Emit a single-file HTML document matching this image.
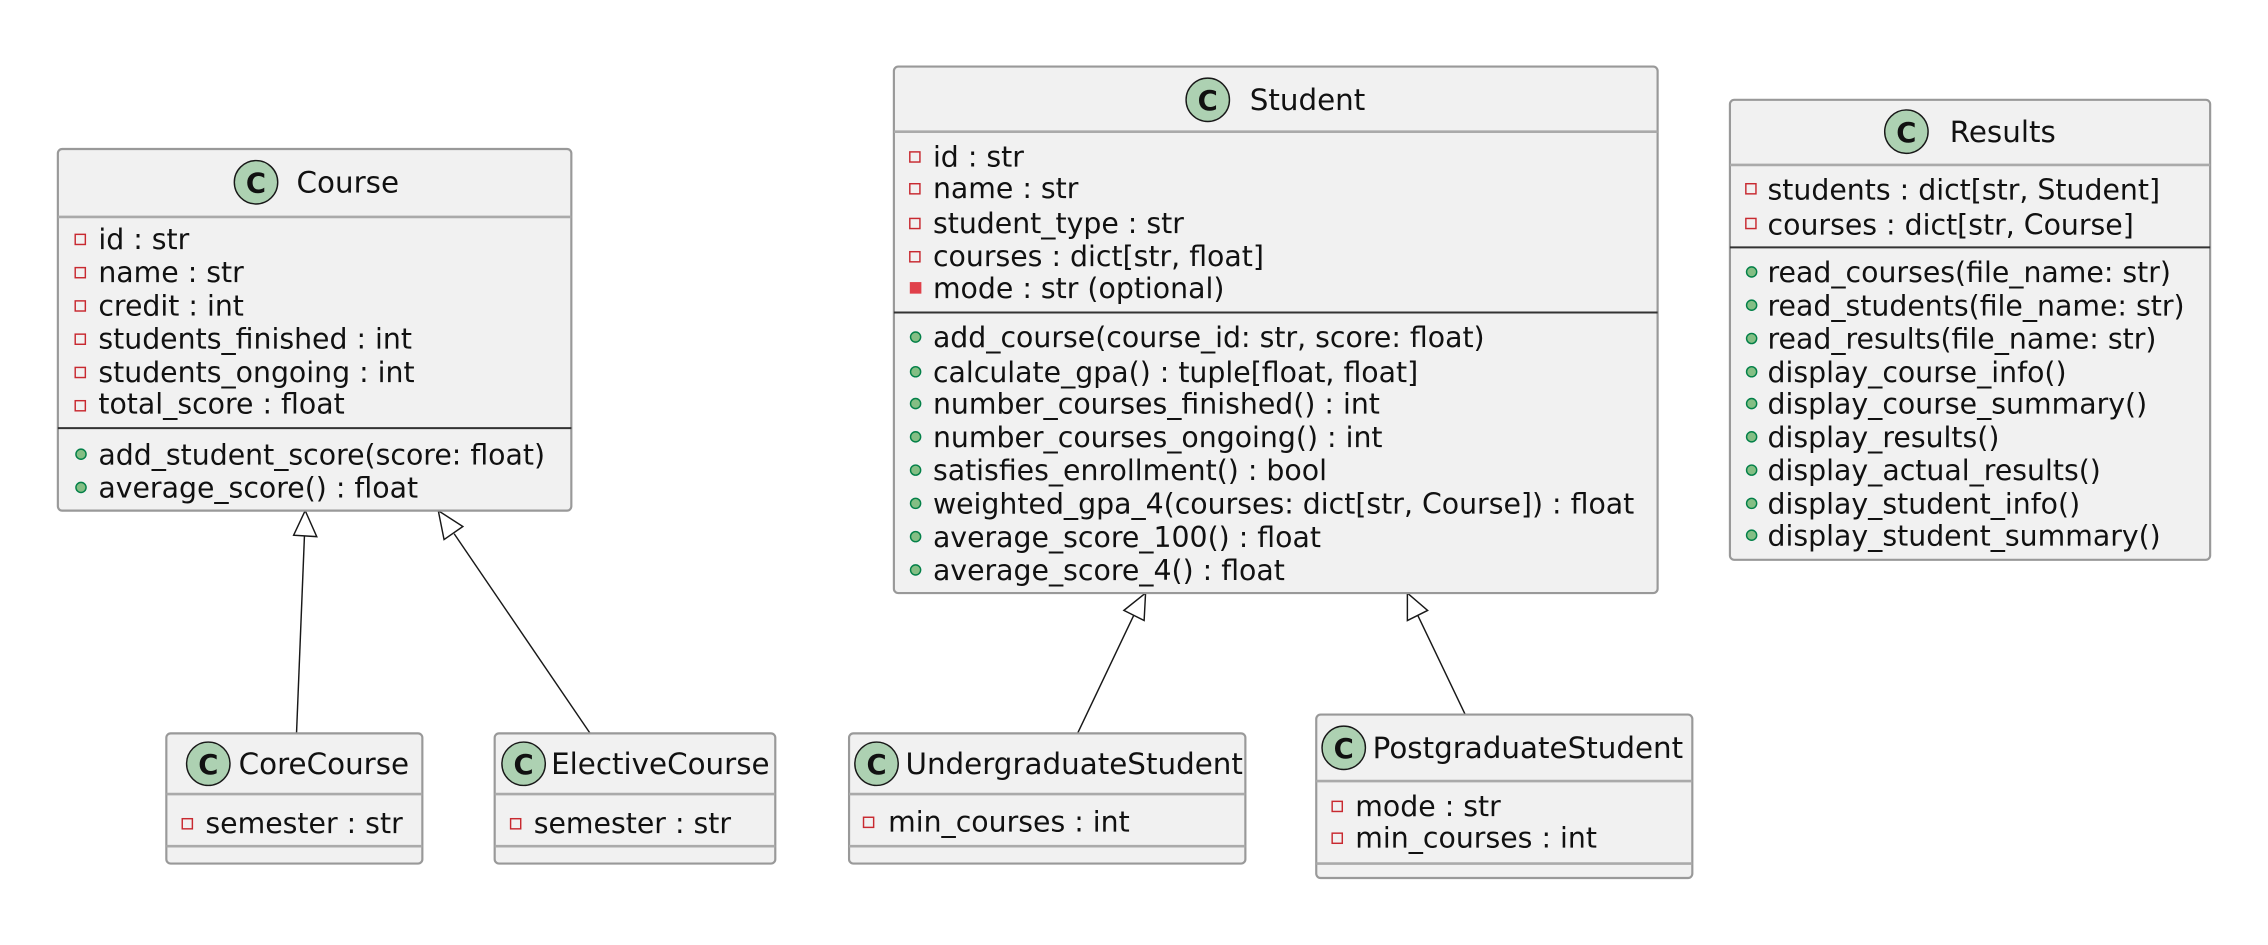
<!DOCTYPE html>
<html><head><meta charset="utf-8"><style>
html,body{margin:0;padding:0;background:#fff;}
svg{display:block;}
text{font-family:"DejaVu Sans","Liberation Sans",sans-serif;fill:#111;}
.m{font-size:19.6px;}
.t{font-size:20.3px;}
.box{fill:#f1f1f1;stroke:#999;stroke-width:1.5;}
.hd{stroke:#aaa;stroke-width:1.8;}
.dv{stroke:#333;stroke-width:1.4;}
.pr{fill:none;stroke:#c82930;stroke-width:1;}
.pu{fill:#84be84;stroke:#038048;stroke-width:1;}
.ci{fill:#add1b2;stroke:#181818;stroke-width:1;}
.cc{font-size:19px;font-weight:bold;}
.ln{stroke:#181818;stroke-width:1;fill:none;}
.ar{fill:#fff;stroke:#181818;stroke-width:1;}
</style></head><body>
<svg width="2268" height="945" viewBox="0 0 1568 653.3" xmlns="http://www.w3.org/2000/svg">
<line class="ln" x1="205" y1="507" x2="210.5" y2="370"/>
<polygon class="ar" points="211,353 203,370 219,371"/>
<line class="ln" x1="408" y1="507" x2="314" y2="369"/>
<polygon class="ar" points="303,353 307,373 320,364"/>
<line class="ln" x1="745" y1="507" x2="784" y2="425"/>
<polygon class="ar" points="792,410 777,422 791,429"/>
<line class="ln" x1="1013" y1="494" x2="980" y2="425"/>
<polygon class="ar" points="973,410 973,429 987,422"/>

<!-- Course -->
<rect class="box" x="40" y="103" width="355" height="250" rx="3"/>
<line class="hd" x1="40" y1="150" x2="395" y2="150"/>
<circle class="ci" cx="177" cy="126" r="15"/><text class="cc" x="177" y="133" text-anchor="middle">C</text>
<text class="t" x="205" y="133">Course</text>
<g class="m">
<rect class="pr" x="52" y="162" width="7" height="7"/><text x="68" y="172">id : str</text>
<rect class="pr" x="52" y="185" width="7" height="7"/><text x="68" y="195">name : str</text>
<rect class="pr" x="52" y="208" width="7" height="7"/><text x="68" y="218">credit : int</text>
<rect class="pr" x="52" y="231" width="7" height="7"/><text x="68" y="241">students_finished : int</text>
<rect class="pr" x="52" y="254" width="7" height="7"/><text x="68" y="264">students_ongoing : int</text>
<rect class="pr" x="52" y="277" width="7" height="7"/><text x="68" y="286">total_score : float</text>
</g>
<line class="dv" x1="40" y1="296" x2="395" y2="296"/>
<circle class="pu" cx="56" cy="314" r="3.5"/><text class="m" x="68" y="321">add_student_score(score: float)</text>
<circle class="pu" cx="56" cy="337" r="3.5"/><text class="m" x="68" y="344">average_score() : float</text>

<!-- CoreCourse -->
<rect class="box" x="115" y="507" width="177" height="90" rx="3"/>
<line class="hd" x1="115" y1="549" x2="292" y2="549"/>
<circle class="ci" cx="144" cy="528" r="15"/><text class="cc" x="144" y="535" text-anchor="middle">C</text>
<text class="t" x="165" y="535">CoreCourse</text>
<rect class="pr" x="126" y="566" width="7" height="7"/><text class="m" x="142" y="576">semester : str</text>
<line class="hd" x1="115" y1="585" x2="292" y2="585"/>

<!-- ElectiveCourse -->
<rect class="box" x="342" y="507" width="194" height="90" rx="3"/>
<line class="hd" x1="342" y1="549" x2="536" y2="549"/>
<circle class="ci" cx="362" cy="528" r="15"/><text class="cc" x="362" y="535" text-anchor="middle">C</text>
<text class="t" x="381" y="535">ElectiveCourse</text>
<rect class="pr" x="353" y="566" width="7" height="7"/><text class="m" x="369" y="576">semester : str</text>
<line class="hd" x1="342" y1="585" x2="536" y2="585"/>

<!-- Student -->
<rect class="box" x="618" y="46" width="528" height="364" rx="3"/>
<line class="hd" x1="618" y1="91" x2="1146" y2="91"/>
<circle class="ci" cx="835" cy="69" r="15"/><text class="cc" x="835" y="76" text-anchor="middle">C</text>
<text class="t" x="864" y="76">Student</text>
<g class="m">
<rect class="pr" x="629" y="105" width="7" height="7"/><text x="645" y="115">id : str</text>
<rect class="pr" x="629" y="127" width="7" height="7"/><text x="645" y="137">name : str</text>
<rect class="pr" x="629" y="151" width="7" height="7"/><text x="645" y="161">student_type : str</text>
<rect class="pr" x="629" y="174" width="7" height="7"/><text x="645" y="184">courses : dict[str, float]</text>
<rect x="629" y="195" width="8" height="8" fill="#e0404a"/><text x="645" y="206">mode : str (optional)</text>
</g>
<line class="dv" x1="618" y1="216" x2="1146" y2="216"/>
<g class="m">
<circle class="pu" cx="633" cy="233" r="3.5"/><text x="645" y="240">add_course(course_id: str, score: float)</text>
<circle class="pu" cx="633" cy="257" r="3.5"/><text x="645" y="264">calculate_gpa() : tuple[float, float]</text>
<circle class="pu" cx="633" cy="279" r="3.5"/><text x="645" y="286">number_courses_finished() : int</text>
<circle class="pu" cx="633" cy="302" r="3.5"/><text x="645" y="309">number_courses_ongoing() : int</text>
<circle class="pu" cx="633" cy="325" r="3.5"/><text x="645" y="332">satisfies_enrollment() : bool</text>
<circle class="pu" cx="633" cy="348" r="3.5"/><text x="645" y="355">weighted_gpa_4(courses: dict[str, Course]) : float</text>
<circle class="pu" cx="633" cy="371" r="3.5"/><text x="645" y="378">average_score_100() : float</text>
<circle class="pu" cx="633" cy="394" r="3.5"/><text x="645" y="401">average_score_4() : float</text>
</g>

<!-- UndergraduateStudent -->
<rect class="box" x="587" y="507" width="274" height="90" rx="3"/>
<line class="hd" x1="587" y1="549" x2="861" y2="549"/>
<circle class="ci" cx="606" cy="528" r="15"/><text class="cc" x="606" y="535" text-anchor="middle">C</text>
<text class="t" x="626" y="535">UndergraduateStudent</text>
<rect class="pr" x="597" y="565" width="7" height="7"/><text class="m" x="614" y="575">min_courses : int</text>
<line class="hd" x1="587" y1="585" x2="861" y2="585"/>

<!-- PostgraduateStudent -->
<rect class="box" x="910" y="494" width="260" height="113" rx="3"/>
<line class="hd" x1="910" y1="540" x2="1170" y2="540"/>
<circle class="ci" cx="929" cy="517" r="15"/><text class="cc" x="929" y="524" text-anchor="middle">C</text>
<text class="t" x="949" y="524">PostgraduateStudent</text>
<rect class="pr" x="921" y="554" width="7" height="7"/><text class="m" x="937" y="564">mode : str</text>
<rect class="pr" x="921" y="576" width="7" height="7"/><text class="m" x="937" y="586">min_courses : int</text>
<line class="hd" x1="910" y1="597" x2="1170" y2="597"/>

<!-- Results -->
<rect class="box" x="1196" y="69" width="332" height="318" rx="3"/>
<line class="hd" x1="1196" y1="114" x2="1528" y2="114"/>
<circle class="ci" cx="1318" cy="91" r="15"/><text class="cc" x="1318" y="98" text-anchor="middle">C</text>
<text class="t" x="1348" y="98">Results</text>
<g class="m">
<rect class="pr" x="1207" y="127" width="7" height="7"/><text x="1222" y="138">students : dict[str, Student]</text>
<rect class="pr" x="1207" y="151" width="7" height="7"/><text x="1222" y="162">courses : dict[str, Course]</text>
</g>
<line class="dv" x1="1196" y1="171" x2="1528" y2="171"/>
<g class="m">
<circle class="pu" cx="1211" cy="188" r="3.5"/><text x="1222" y="195">read_courses(file_name: str)</text>
<circle class="pu" cx="1211" cy="211" r="3.5"/><text x="1222" y="218">read_students(file_name: str)</text>
<circle class="pu" cx="1211" cy="234" r="3.5"/><text x="1222" y="241">read_results(file_name: str)</text>
<circle class="pu" cx="1211" cy="257" r="3.5"/><text x="1222" y="264">display_course_info()</text>
<circle class="pu" cx="1211" cy="279" r="3.5"/><text x="1222" y="286">display_course_summary()</text>
<circle class="pu" cx="1211" cy="302" r="3.5"/><text x="1222" y="309">display_results()</text>
<circle class="pu" cx="1211" cy="325" r="3.5"/><text x="1222" y="332">display_actual_results()</text>
<circle class="pu" cx="1211" cy="348" r="3.5"/><text x="1222" y="355">display_student_info()</text>
<circle class="pu" cx="1211" cy="370" r="3.5"/><text x="1222" y="377">display_student_summary()</text>
</g>
</svg>
</body></html>
